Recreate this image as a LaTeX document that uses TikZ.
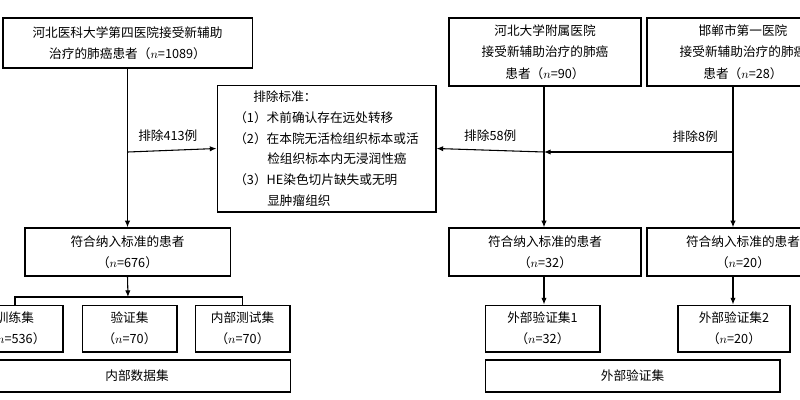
\documentclass[tikz,border=0pt]{standalone}
\usepackage{fontspec}
\setmainfont{Noto Sans CJK SC}
\usetikzlibrary{arrows.meta}
\begin{document}
\begin{tikzpicture}[x=0.75pt,y=-0.75pt,
  box/.style={draw,line width=1pt,inner sep=0pt,align=center,font=\fontsize{9.5}{16}\selectfont},
  arr/.style={-{Latex[length=5pt,width=4pt]},line width=0.8pt},
  ln/.style={line width=0.8pt},
  lab/.style={font=\fontsize{9.5}{12}\selectfont}]
\useasboundingbox (0,0) rectangle (800,400);
\clip (0,0) rectangle (800,400);
\node[box,minimum width=187pt,minimum height=37.5pt] (h4) at (127.5,43) {河北医科大学第四医院接受新辅助\\治疗的肺癌患者（$n$=1089）};
\node[box,minimum width=164pt,minimum height=95pt,align=left,font=\fontsize{9.5}{15.5}\selectfont] (ex) at (326.5,148.5) {\hspace{1.5em}排除标准：\\（1）术前确认存在远处转移\\（2）在本院无活检组织标本或活\\\hspace{2.6em}检组织标本内无浸润性癌\\（3）HE染色切片缺失或无明\\\hspace{2.6em}显肿瘤组织};
\node[box,minimum width=144pt,minimum height=51pt] (hb) at (545,52) {河北大学附属医院\\接受新辅助治疗的肺癌\\患者（$n$=90）};
\node[box,minimum width=144pt,minimum height=51pt] (hd) at (743,52) {邯郸市第一医院\\接受新辅助治疗的肺癌\\患者（$n$=28）};
\node[box,minimum width=154pt,minimum height=36pt] (i1) at (127.5,252) {符合纳入标准的患者\\（$n$=676）};
\node[box,minimum width=144pt,minimum height=36pt] (i2) at (545,252) {符合纳入标准的患者\\（$n$=32）};
\node[box,minimum width=144pt,minimum height=36pt] (i3) at (743,252) {符合纳入标准的患者\\（$n$=20）};
\node[box,minimum width=72pt,minimum height=35pt] (tr) at (15,328.5) {训练集\\（$n$=536）};
\node[box,minimum width=71pt,minimum height=35pt] (va) at (129.5,328.5) {验证集\\（$n$=70）};
\node[box,minimum width=71pt,minimum height=35pt] (te) at (242.5,328.5) {内部测试集\\（$n$=70）};
\node[box,minimum width=86pt,minimum height=35pt] (e1) at (542.5,328.5) {外部验证集1\\（$n$=32）};
\node[box,minimum width=84pt,minimum height=35pt] (e2) at (734,328.5) {外部验证集2\\（$n$=20）};
\node[box,minimum width=230pt,minimum height=24pt] (ind) at (137,376) {内部数据集};
\node[box,minimum width=221pt,minimum height=24pt] (exd) at (632.5,376) {外部验证集};
\coordinate (b1) at (128,152);
\coordinate (b2) at (544,152);
\coordinate (b3) at (733,152);
\coordinate (s1) at (128,297);
\draw[arr] (h4.south) -- (i1.north);
\draw[arr] (b1) -- (ex.west) node[lab,pos=0.45,above=3pt] {排除413例};
\draw[arr] (hb.south -| b2) -- (i2.north -| b2);
\draw[arr] (hd.south -| b3) -- (i3.north -| b3);
\draw[arr] (b2) -- (ex.east) node[lab,pos=0.5,above=3pt] {排除58例};
\draw[arr] (b3) -- (b2) node[lab,pos=0.2,above=3pt] {排除8例};
\draw[arr] (i1.south) -- (s1);
\draw[ln] (tr.north) -- (s1 -| tr.north) -- (s1 -| te.north) -- (te.north);
\draw[arr] (i2.south -| b2) -- (e1.north -| b2);
\draw[arr] (i3.south -| b3) -- (e2.north -| b3);
\end{tikzpicture}
\end{document}
